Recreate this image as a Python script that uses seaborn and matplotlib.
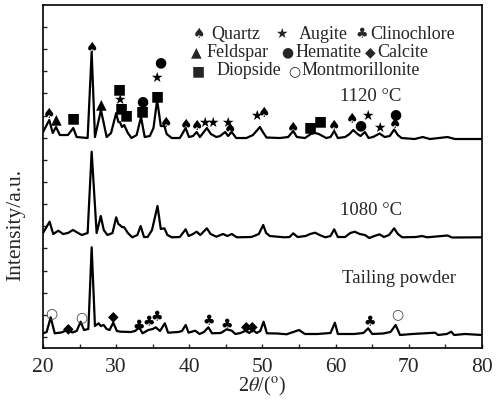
import numpy as np
import pandas as pd
import matplotlib
matplotlib.use('Agg')
import matplotlib.pyplot as plt
import seaborn as sns
from matplotlib.ticker import MultipleLocator

# ----------------------------
# Data (2theta, intensity a.u., already offset)
# ----------------------------
t1120_x = [20.0, 20.86, 21.33, 21.78, 22.3, 23.4, 24.14, 24.6, 26.1, 26.65, 27.1, 27.92, 28.7, 29.3,
           30.0, 30.3, 30.5, 30.8, 31.1, 31.6, 32.1, 32.8, 33.4, 33.9, 34.6, 35.1, 35.6, 36.1, 36.6,
           36.9, 37.6, 38.7, 39.5, 39.95, 40.5, 41.0, 41.45, 42.4, 42.95, 43.7, 44.2, 44.9, 45.3, 45.8,
           46.4, 47.8, 48.7, 49.65, 50.05, 50.55, 52.4, 53.5, 54.2, 54.7, 55.8, 56.6, 57.2, 57.7, 58.7,
           59.3, 59.8, 60.3, 61.3, 61.9, 62.4, 63.0, 63.4, 64.0, 64.5, 65.1, 66.0, 66.7, 67.4, 68.0,
           68.5, 69.0, 70.8, 71.9, 72.9, 75.3, 76.3, 78.3, 80.0]
t1120_y = [216, 228, 215, 221, 213, 213, 220, 211, 210, 296, 211, 238, 211, 215,
           235, 226, 226, 221, 223, 215, 210, 213, 231, 211, 212, 220, 248, 222, 222,
           214, 210, 210, 220, 211, 212, 216, 211, 220, 214, 211, 212, 216, 212, 216,
           210, 210, 213, 221, 216, 210.5, 210, 211, 217, 211, 210, 214, 215, 214, 210,
           211, 217, 210, 211, 214, 218, 214, 212, 216, 210, 211, 214.5, 211, 212, 218.5,
           213, 210, 209, 211, 209, 211, 209, 209, 209]

t1080_x = [20.0, 20.9, 21.4, 22.1, 22.75, 23.4, 24.1, 24.8, 25.3, 26.1, 26.65, 27.33, 27.9, 28.3,
           28.8, 29.5, 30.0, 30.3, 30.5, 30.8, 31.1, 31.6, 32.2, 32.9, 33.35, 33.8, 34.3, 34.9, 35.65,
           36.1, 36.6, 37.0, 37.6, 38.7, 39.5, 39.9, 40.5, 41.0, 41.5, 42.4, 42.9, 43.7, 44.6, 45.2,
           45.8, 46.5, 48.5, 49.5, 50.1, 50.5, 51.0, 53.0, 53.7, 54.2, 54.8, 55.9, 56.5, 57.2, 57.8,
           58.6, 59.3, 59.8, 60.3, 61.3, 62.0, 62.6, 63.3, 64.0, 64.6, 65.3, 66.0, 66.6, 67.3, 68.0,
           68.5, 69.1, 71.0, 71.8, 72.5, 75.3, 75.9, 80.0]
t1080_y = [115, 126.3, 114, 117.3, 114, 115, 118, 115, 113, 115, 196.3, 115, 132, 118,
           113, 115, 130.7, 124, 123, 121, 120.7, 115, 110.7, 113, 122, 111, 111, 118, 142,
           119, 119.7, 113, 110.7, 111, 118.7, 112, 114, 116.3, 113, 119.7, 114, 111.3, 114, 112,
           114, 110.7, 111, 114, 123, 115, 112, 110.7, 111, 114.7, 111, 112, 114, 115.3, 113,
           110.7, 112, 118.7, 111, 111, 115, 116.3, 114, 113, 110, 112, 113.7, 111, 113, 119.7,
           114, 110.7, 111, 112, 110.7, 112.5, 110.5, 110.7]

tail_x = [20.0, 20.5, 21.05, 21.6, 22.5, 23.0, 23.5, 24.0, 24.6, 25.15, 25.6, 26.2, 26.65, 27.1,
          27.6, 27.9, 28.3, 28.7, 29.1, 29.6, 30.1, 30.6, 32.0, 32.6, 33.15, 33.6, 34.4, 35.0, 35.4,
          36.0, 36.65, 37.1, 38.5, 39.0, 39.5, 39.9, 40.8, 41.4, 42.0, 42.6, 43.1, 44.3, 45.1, 45.8,
          46.3, 47.0, 47.7, 48.2, 48.7, 49.2, 49.7, 50.15, 50.6, 52.0, 53.3, 55.0, 55.8, 57.5, 59.3,
          59.9, 60.3, 62.5, 63.8, 64.45, 65.0, 66.5, 67.5, 68.2, 68.8, 70.5, 73.6, 74.0, 75.2, 75.8,
          76.2, 77.7, 80.0]
tail_y = [14.7, 16, 30.7, 14.7, 15.5, 17, 18, 15.5, 17, 26.3, 18, 19, 100.7, 22,
          24.7, 22, 23, 19, 18, 25.3, 17, 16.3, 16, 17, 20.7, 14.7, 18, 19, 20.7,
          17, 24.7, 15.3, 16, 17, 23, 15.3, 17.3, 14, 16, 20.7, 14.7, 15, 18.7, 17.3,
          14, 15, 17.3, 15, 18, 15, 17, 26.3, 14.7, 14.5, 13.7, 18, 14, 14, 15,
          25.3, 14, 14, 15, 19.7, 14, 14.5, 16, 23, 13, 14, 15.3, 13, 14, 16.3,
          13, 14, 13]

# peak markers: (2theta, intensity) per phase
quartz_pk = [(20.86, 233.7), (26.74, 299.7), (36.8, 224.7), (39.54, 223), (41.0, 222.3),
             (45.55, 218.7), (50.2, 234.7), (54.2, 220.3), (59.8, 222.3), (62.26, 228.7), (68.09, 224)]
augite_pk = [(30.5, 248), (35.44, 269.7), (42.0, 224.7), (43.2, 224.7), (45.2, 224.7),
             (49.2, 232), (64.36, 232), (65.94, 220.3)]
feldspar_pk = [(21.87, 229), (27.92, 243.7)]
hematite_pk = [(33.57, 247), (36.08, 285.7), (63.44, 222.3), (68.22, 233.7)]
diopside_pk = [(24.14, 229.7), (30.38, 258.7), (30.75, 239.7), (31.34, 233), (33.57, 237),
               (35.62, 251.3), (56.57, 220.3), (57.94, 227)]
clino_pk = [(33.11, 22), (34.48, 25.3), (35.53, 30.7), (42.68, 27), (45.18, 23), (64.67, 25.3)]
calcite_pk = [(23.46, 19.7), (29.6, 31.3), (47.73, 21.3), (48.65, 21.3)]
montmor_pk = [(21.19, 34.7), (25.19, 30.7), (68.4, 34)]

curve_labels = ['1120 °C', '1080 °C', 'Tailing powder']

# ----------------------------
# Plot
# ----------------------------
sns.set_style('ticks')
plt.rcParams['font.family'] = ['Liberation Serif', 'DejaVu Sans']
plt.rcParams['mathtext.fontset'] = 'stix'

fig = plt.figure(figsize=(4.96, 4.03), dpi=100)
ax = fig.add_axes([0.0867, 0.1365, 0.885, 0.851])

df = pd.concat([
    pd.DataFrame({'2theta': t1120_x, 'I': t1120_y, 'sample': '1120'}),
    pd.DataFrame({'2theta': t1080_x, 'I': t1080_y, 'sample': '1080'}),
    pd.DataFrame({'2theta': tail_x, 'I': tail_y, 'sample': 'tail'}),
])
for s in ['1120', '1080', 'tail']:
    sns.lineplot(data=df[df['sample'] == s], x='2theta', y='I', color='black',
                 linewidth=1.6, ax=ax, legend=False)

sym = {'quartz': '♠', 'augite': '★', 'feldspar': '▲', 'hematite': '●',
       'diopside': '■', 'clino': '♣', 'calcite': '◆', 'montmor': '○'}
pk_sets = [('quartz', quartz_pk), ('augite', augite_pk), ('feldspar', feldspar_pk),
           ('hematite', hematite_pk), ('diopside', diopside_pk), ('clino', clino_pk),
           ('calcite', calcite_pk), ('montmor', montmor_pk)]
for name, pks in pk_sets:
    for x, y in pks:
        ax.text(x, y, sym[name], ha='center', va='center', fontsize=10,
                family=['DejaVu Sans'], color='black' if name != 'montmor' else '#444444')

# legend of phases, drawn as text
leg_rows = [[('♠', 'Quartz', 0.355, 0.384), ('★', 'Augite', 0.542, 0.582), ('♣', 'Clinochlore', 0.726, 0.745)],
            [('▲', 'Feldspar', 0.350, 0.373), ('●', 'Hematite', 0.556, 0.576), ('◆', 'Calcite', 0.745, 0.762)],
            [('■', 'Diopside', 0.354, 0.396), ('○', 'Montmorillonite', 0.572, 0.589)]]
for row, yy in zip(leg_rows, [0.915, 0.862, 0.808]):
    for s, lab, xs, xl in row:
        ax.text(xs, yy, s, transform=ax.transAxes, ha='center', va='center', fontsize=10,
                family=['DejaVu Sans'])
        ax.text(xl, yy, lab, transform=ax.transAxes, ha='left', va='center', fontsize=13)

for lab, xx, yy in zip(curve_labels, [0.676, 0.677, 0.681], [0.733, 0.402, 0.204]):
    ax.text(xx, yy, lab, transform=ax.transAxes, ha='left', va='center', fontsize=13.5)

ax.set_xlim(20, 80)
ax.set_ylim(0, 343)
ax.xaxis.set_major_locator(MultipleLocator(10))
ax.xaxis.set_minor_locator(MultipleLocator(5))
ax.yaxis.set_major_locator(MultipleLocator(22.15, offset=11))
ax.set_yticklabels([])
ax.tick_params(axis='both', which='both', direction='in', length=3, width=1, top=False, right=False)
ax.tick_params(axis='x', labelsize=15.5, pad=7)
ax.set_xlabel(r'2$\it{\theta}$/($^{\rm o}$)', fontsize=14.5, labelpad=-1)
ax.set_ylabel('Intensity/a.u.', fontsize=15.5)
ax.yaxis.set_label_coords(-0.04, 0.36)
for sp in ax.spines.values():
    sp.set_linewidth(1.2)
    sp.set_color('black')

fig.savefig('out.png', dpi=100)
